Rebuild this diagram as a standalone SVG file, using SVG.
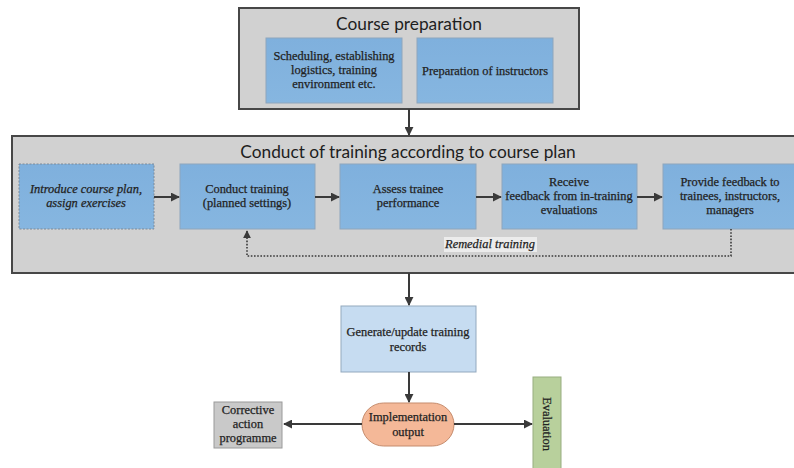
<svg xmlns="http://www.w3.org/2000/svg" width="794" height="468" viewBox="0 0 794 468">
  <defs>
    <marker id="arrow" viewBox="0 0 10 10" refX="9" refY="5" markerWidth="4.5" markerHeight="4.5" orient="auto" markerUnits="strokeWidth">
      <path d="M0,0 L10,5 L0,10 z" fill="#3a3a3a"/>
    </marker>
    <marker id="arrowSmall" viewBox="0 0 10 10" refX="9" refY="5" markerWidth="5" markerHeight="6" orient="auto" markerUnits="strokeWidth">
      <path d="M0,0 L10,5 L0,10 z" fill="#3a3a3a"/>
    </marker>
    <linearGradient id="blueFill" x1="0" y1="0" x2="0" y2="1">
      <stop offset="0" stop-color="#7fb0dd"/>
      <stop offset="1" stop-color="#86b6e0"/>
    </linearGradient>
  </defs>
  <style>
    .frame { fill: #d1d1d1; stroke: #474747; stroke-width: 2; }
    .blue { fill: url(#blueFill); stroke: #8ea6bd; stroke-width: 1; }
    .blue-dashed { fill: url(#blueFill); stroke: #7c8a99; stroke-width: 1; stroke-dasharray: 2 1.5; }
    .light { fill: #c6dcf1; stroke: #93a9be; stroke-width: 1; }
    .title { font-size: 17.3px; fill: #1e1e1e; text-anchor: middle; }
    .label { font-size: 12.4px; fill: #222; stroke: #222; stroke-width: 0.25; text-anchor: middle; }
    .italic { font-style: italic; }
    .conn { fill: none; stroke: #3a3a3a; stroke-width: 2; }
    .dotted { fill: none; stroke: #3a3a3a; stroke-width: 1.6; stroke-dasharray: 1.6 1.6; }
  </style>

  <g font-family="'Liberation Serif', 'Times New Roman', serif">
  <!-- Course preparation frame -->
  <g id="course-preparation">
    <rect class="frame" x="239" y="8" width="340" height="101"/>
    <text class="title" x="409" y="30" font-family="Lato, 'Liberation Sans', sans-serif">Course preparation</text>
  </g>
  <g id="scheduling">
    <rect class="blue" x="266" y="38" width="136" height="65"/>
    <text class="label" x="334" y="60">Scheduling, establishing</text>
    <text class="label" x="334" y="74">logistics, training</text>
    <text class="label" x="334" y="88">environment etc.</text>
  </g>
  <g id="prep-instructors">
    <rect class="blue" x="417" y="38" width="136" height="65"/>
    <text class="label" x="485" y="75">Preparation of instructors</text>
  </g>

  <!-- Conduct of training frame -->
  <g id="conduct-frame">
    <rect class="frame" x="12" y="136" width="790" height="137"/>
    <text class="title" x="408" y="158" font-family="Lato, 'Liberation Sans', sans-serif">Conduct of training according to course plan</text>
  </g>
  <g id="introduce">
    <rect class="blue-dashed" x="19" y="164" width="135" height="65"/>
    <text class="label italic" x="86" y="193">Introduce course plan,</text>
    <text class="label italic" x="86" y="207">assign exercises</text>
  </g>
  <g id="conduct-training">
    <rect class="blue" x="180" y="164" width="135" height="65"/>
    <text class="label" x="247" y="193">Conduct training</text>
    <text class="label" x="247" y="207">(planned settings)</text>
  </g>
  <g id="assess">
    <rect class="blue" x="340" y="164" width="136" height="65"/>
    <text class="label" x="408" y="193">Assess trainee</text>
    <text class="label" x="408" y="207">performance</text>
  </g>
  <g id="receive">
    <rect class="blue" x="502" y="164" width="135" height="65"/>
    <text class="label" x="569" y="186">Receive</text>
    <text class="label" x="569" y="200">feedback from in-training</text>
    <text class="label" x="569" y="214">evaluations</text>
  </g>
  <g id="provide">
    <rect class="blue" x="663" y="164" width="135" height="65"/>
    <text class="label" x="730" y="186">Provide feedback to</text>
    <text class="label" x="730" y="200">trainees, instructors,</text>
    <text class="label" x="730" y="214">managers</text>
  </g>
  <g id="remedial-label">
    <rect x="444" y="237" width="93" height="15" fill="#ececec"/>
    <text class="label italic" x="490" y="248">Remedial training</text>
  </g>

  <!-- Records and outputs -->
  <g id="records">
    <rect class="light" x="341" y="306" width="135" height="66"/>
    <text class="label" x="408" y="336">Generate/update training</text>
    <text class="label" x="408" y="351">records</text>
  </g>
  <g id="implementation">
    <rect x="362" y="403" width="92" height="43" rx="21.5" ry="21.5" fill="#f4b898" stroke="#c58b6c" stroke-width="1"/>
    <text class="label" x="408" y="421">Implementation</text>
    <text class="label" x="408" y="436">output</text>
  </g>
  <g id="corrective">
    <rect x="214" y="402" width="68" height="46" fill="#c9c9c9" stroke="#9a9a9a" stroke-width="1"/>
    <text class="label" x="248" y="414">Corrective</text>
    <text class="label" x="248" y="428">action</text>
    <text class="label" x="248" y="442">programme</text>
  </g>
  <g id="evaluation">
    <rect x="533" y="377" width="28" height="100" fill="#b8d09c" stroke="#98ad80" stroke-width="1"/>
    <text class="label" x="0" y="0" transform="translate(543 424) rotate(90)">Evaluation</text>
  </g>
  </g>

  <!-- Connectors -->
  <g id="connectors">
    <line class="conn" x1="409" y1="109" x2="409" y2="135" marker-end="url(#arrow)"/>
    <line class="conn" x1="154" y1="197" x2="179" y2="197" marker-end="url(#arrow)"/>
    <line class="conn" x1="315" y1="197" x2="339" y2="197" marker-end="url(#arrow)"/>
    <line class="conn" x1="476" y1="197" x2="501" y2="197" marker-end="url(#arrow)"/>
    <line class="conn" x1="637" y1="197" x2="662" y2="197" marker-end="url(#arrow)"/>
    <polyline class="dotted" points="731,229 731,256 247,256 247,231" marker-end="url(#arrowSmall)"/>
    <line class="conn" x1="409" y1="273" x2="409" y2="305" marker-end="url(#arrow)"/>
    <line class="conn" x1="409" y1="372" x2="409" y2="402" marker-end="url(#arrow)"/>
    <line class="conn" x1="362" y1="424" x2="284" y2="424" marker-end="url(#arrow)"/>
    <line class="conn" x1="454" y1="424" x2="532" y2="424" marker-end="url(#arrow)"/>
  </g>
</svg>
